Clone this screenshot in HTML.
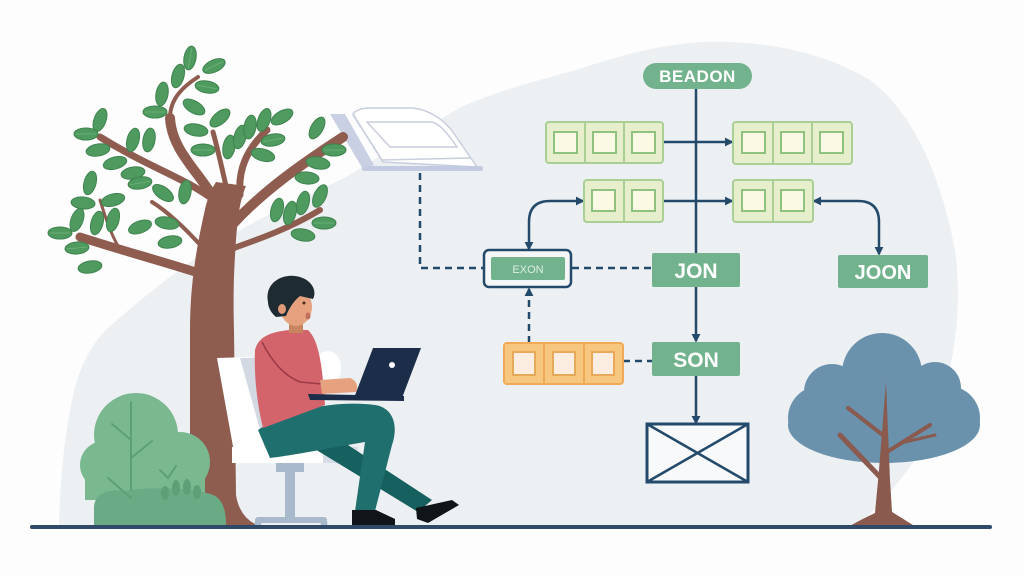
<!DOCTYPE html>
<html><head><meta charset="utf-8">
<style>
html,body{margin:0;padding:0;background:#fdfdfe;}
svg{display:block;}
text{font-family:"Liberation Sans",sans-serif;}
</style></head>
<body>
<svg width="1024" height="576" viewBox="0 0 1024 576" xmlns="http://www.w3.org/2000/svg">
<defs>
<marker id="ah" viewBox="0 0 10 10" refX="8" refY="5" markerWidth="9" markerHeight="9" markerUnits="userSpaceOnUse" orient="auto-start-reverse">
<path d="M0,0 L10,5 L0,10 Z" fill="#234a6b"/>
</marker>
</defs>
<rect width="1024" height="576" fill="#fdfdfe"/>
<!-- background blob -->
<path d="M59 527 C60 480 65 420 78 377 C90 345 100 335 117 320 C140 300 165 280 193 260 C250 220 300 200 346 177 C390 150 430 125 461 107 C500 90 540 80 576 70 C620 55 660 45 700 42 C760 40 820 50 870 80 C910 110 940 170 955 250 C965 320 950 420 900 480 C880 505 865 520 855 527 Z" fill="#edf0f3"/>

<!-- monitor/page shape -->
<path d="M353 114 C356 110 362 108 370 108 L413 108 C430 110 445 120 455 135 L477 167 L383 162 Z" fill="#ffffff" stroke="#c8cedd" stroke-width="1.5"/>
<path d="M367 122 L432 122 C440 124 448 134 457 147 L390 147 Z" fill="none" stroke="#c8cedd" stroke-width="1.5"/>
<path d="M353 115 L382 160 L470 158" fill="none" stroke="#c8cedd" stroke-width="1.5"/>
<path d="M330 114 L345 114 L374 165 L363 169 Z" fill="#c9d0e4"/>
<rect x="362" y="166" width="121" height="5" rx="2" fill="#c3cbe2"/>

<!-- connectors -->
<g stroke="#234a6b" stroke-width="2.5" fill="none">
<line x1="696" y1="89" x2="696" y2="253"/>
<line x1="663" y1="142" x2="732" y2="142" marker-end="url(#ah)"/>
<line x1="663" y1="201" x2="732" y2="201" marker-end="url(#ah)"/>
<line x1="696" y1="287" x2="696" y2="341" marker-end="url(#ah)"/>
<line x1="696" y1="376" x2="696" y2="423" marker-end="url(#ah)"/>
<path d="M583 201 L550 201 Q529 201 529 222 L529 249" marker-start="url(#ah)" marker-end="url(#ah)"/>
<path d="M814 201 L858 201 Q879 201 879 222 L879 254" marker-start="url(#ah)" marker-end="url(#ah)"/>
<g stroke-dasharray="7 5">
<path d="M420 173 L420 268 L484 268"/>
<line x1="572" y1="268" x2="652" y2="268"/>
<line x1="623" y1="361" x2="652" y2="361"/>
<line x1="529" y1="343" x2="529" y2="289" marker-end="url(#ah)"/>
</g>
</g>

<!-- BEADON -->
<rect x="643" y="63" width="109" height="26" rx="13" fill="#72b38e"/>
<text x="697.5" y="82" font-size="17" font-weight="bold" fill="#ffffff" text-anchor="middle" letter-spacing="0.5">BEADON</text>

<!-- green cell groups -->
<g stroke-width="2">
<rect x="546" y="122" width="117" height="41" rx="3" fill="#e6eecb" stroke="#a9cf94"/>
<line x1="585" y1="122" x2="585" y2="163" stroke="#a9cf94"/>
<line x1="624" y1="122" x2="624" y2="163" stroke="#a9cf94"/>
<rect x="554" y="132" width="23" height="21" fill="#fbf8e4" stroke="#8fc27e"/>
<rect x="593" y="132" width="23" height="21" fill="#fbf8e4" stroke="#8fc27e"/>
<rect x="632" y="132" width="23" height="21" fill="#fbf8e4" stroke="#8fc27e"/>

<rect x="733" y="122" width="119" height="42" rx="3" fill="#e6eecb" stroke="#a9cf94"/>
<line x1="773" y1="122" x2="773" y2="164" stroke="#a9cf94"/>
<line x1="812" y1="122" x2="812" y2="164" stroke="#a9cf94"/>
<rect x="742" y="132" width="23" height="21" fill="#fbf8e4" stroke="#8fc27e"/>
<rect x="781" y="132" width="23" height="21" fill="#fbf8e4" stroke="#8fc27e"/>
<rect x="820" y="132" width="23" height="21" fill="#fbf8e4" stroke="#8fc27e"/>

<rect x="584" y="180" width="79" height="42" rx="3" fill="#e6eecb" stroke="#a9cf94"/>
<line x1="624" y1="180" x2="624" y2="222" stroke="#a9cf94"/>
<rect x="592" y="190" width="23" height="21" fill="#fbf8e4" stroke="#8fc27e"/>
<rect x="632" y="190" width="23" height="21" fill="#fbf8e4" stroke="#8fc27e"/>

<rect x="733" y="180" width="80" height="42" rx="3" fill="#e6eecb" stroke="#a9cf94"/>
<line x1="773" y1="180" x2="773" y2="222" stroke="#a9cf94"/>
<rect x="742" y="190" width="23" height="21" fill="#fbf8e4" stroke="#8fc27e"/>
<rect x="781" y="190" width="23" height="21" fill="#fbf8e4" stroke="#8fc27e"/>

<!-- orange -->
<rect x="504" y="343" width="119" height="41" rx="3" fill="#f8c77f" stroke="#f0aa55"/>
<line x1="544" y1="343" x2="544" y2="384" stroke="#f0aa55"/>
<line x1="584" y1="343" x2="584" y2="384" stroke="#f0aa55"/>
<rect x="513" y="352" width="22" height="23" fill="#fbeee0" stroke="#eaa85a"/>
<rect x="553" y="352" width="22" height="23" fill="#fbeee0" stroke="#eaa85a"/>
<rect x="592" y="352" width="22" height="23" fill="#fbeee0" stroke="#eaa85a"/>
</g>

<!-- EXON -->
<rect x="484" y="250" width="87" height="37" rx="5" fill="#f4f6f8" stroke="#234a6b" stroke-width="2.5"/>
<rect x="491" y="257" width="74" height="23" rx="2" fill="#72b38e"/>
<text x="528" y="273" font-size="11" fill="#dcefe2" text-anchor="middle">EXON</text>

<!-- JON, JOON, SON -->
<rect x="652" y="253" width="88" height="34" rx="2" fill="#72b38e"/>
<text x="696" y="278" font-size="21" font-weight="bold" fill="#ffffff" text-anchor="middle">JON</text>
<rect x="838" y="255" width="90" height="33" rx="2" fill="#72b38e"/>
<text x="883" y="279" font-size="20" font-weight="bold" fill="#ffffff" text-anchor="middle">JOON</text>
<rect x="652" y="342" width="88" height="34" rx="2" fill="#72b38e"/>
<text x="696" y="367" font-size="21" font-weight="bold" fill="#ffffff" text-anchor="middle">SON</text>

<!-- X box -->
<rect x="647" y="424" width="101" height="58" fill="#f8f9fb" stroke="#234a6b" stroke-width="3"/>
<path d="M647 424 L748 482 M748 424 L647 482" stroke="#234a6b" stroke-width="2.5"/>

<!-- right tree -->
<g fill="#6a92ad">
<circle cx="882" cy="373" r="40"/>
<circle cx="832" cy="392" r="28"/>
<circle cx="935" cy="388" r="26"/>
<ellipse cx="884" cy="425" rx="96" ry="38"/>
<circle cx="820" cy="418" r="32"/>
<circle cx="948" cy="418" r="32"/>
</g>
<g fill="#8a5a4f">
<path d="M886 382 L890 480 L892 512 Q905 520 916 527 L848 527 Q862 519 875 513 L879 470 Z"/>
</g>
<g stroke="#8a5a4f" fill="none" stroke-linecap="round">
<path d="M881 478 L840 435" stroke-width="5"/>
<path d="M884 436 L848 408" stroke-width="4"/>
<path d="M887 452 L930 425" stroke-width="4"/>
<path d="M905 442 L935 435" stroke-width="3"/>
</g>

<!-- left tree trunk -->
<path d="M190 527 L190 330 C190 280 198 240 206 205 C209 195 212 188 216 182 L246 186 C240 200 238 215 236 240 C234 270 233 290 234 330 L236 495 Q240 520 262 527 Z" fill="#8e5d50"/>
<g stroke="#8e5d50" fill="none" stroke-linecap="round">
<path d="M218 205 C200 172 172 152 170 118" stroke-width="10"/>
<path d="M170 118 C170 98 184 86 198 77" stroke-width="4"/>
<path d="M214 200 C185 178 150 168 100 137" stroke-width="7"/>
<path d="M205 275 C165 262 120 250 80 237" stroke-width="9"/>
<path d="M118 246 C110 232 105 216 100 200" stroke-width="3"/>
<path d="M203 248 C185 228 168 212 152 202" stroke-width="4"/>
<path d="M228 195 C222 168 218 150 213 132" stroke-width="5"/>
<path d="M240 195 C238 170 246 150 267 130" stroke-width="7"/>
<path d="M232 225 C262 192 300 165 343 137" stroke-width="10"/>
<path d="M234 248 C262 238 290 228 320 210" stroke-width="6"/>
</g>
<!-- leaves -->
<g fill="#4f9a5f" stroke="#3f834f" stroke-width="1">
<ellipse cx="190" cy="58" rx="12" ry="6" transform="rotate(-80 190 58)"/>
<ellipse cx="214" cy="66" rx="12" ry="6" transform="rotate(-25 214 66)"/>
<ellipse cx="178" cy="76" rx="12" ry="6" transform="rotate(-75 178 76)"/>
<ellipse cx="207" cy="87" rx="12" ry="6" transform="rotate(10 207 87)"/>
<ellipse cx="162" cy="94" rx="12" ry="6" transform="rotate(-80 162 94)"/>
<ellipse cx="194" cy="107" rx="12" ry="6" transform="rotate(30 194 107)"/>
<ellipse cx="155" cy="112" rx="12" ry="6" transform="rotate(0 155 112)"/>
<ellipse cx="100" cy="120" rx="12" ry="6" transform="rotate(-70 100 120)"/>
<ellipse cx="86" cy="134" rx="12" ry="6" transform="rotate(0 86 134)"/>
<ellipse cx="98" cy="150" rx="12" ry="6" transform="rotate(-10 98 150)"/>
<ellipse cx="133" cy="140" rx="12" ry="6" transform="rotate(-75 133 140)"/>
<ellipse cx="149" cy="140" rx="12" ry="6" transform="rotate(-80 149 140)"/>
<ellipse cx="115" cy="163" rx="12" ry="6" transform="rotate(-15 115 163)"/>
<ellipse cx="133" cy="173" rx="12" ry="6" transform="rotate(-10 133 173)"/>
<ellipse cx="196" cy="130" rx="12" ry="6" transform="rotate(10 196 130)"/>
<ellipse cx="220" cy="118" rx="12" ry="6" transform="rotate(-40 220 118)"/>
<ellipse cx="203" cy="150" rx="12" ry="6" transform="rotate(0 203 150)"/>
<ellipse cx="229" cy="147" rx="12" ry="6" transform="rotate(-80 229 147)"/>
<ellipse cx="240" cy="137" rx="12" ry="6" transform="rotate(-75 240 137)"/>
<ellipse cx="250" cy="127" rx="12" ry="6" transform="rotate(-80 250 127)"/>
<ellipse cx="264" cy="120" rx="12" ry="6" transform="rotate(-70 264 120)"/>
<ellipse cx="282" cy="117" rx="12" ry="6" transform="rotate(-30 282 117)"/>
<ellipse cx="273" cy="140" rx="12" ry="6" transform="rotate(-10 273 140)"/>
<ellipse cx="263" cy="155" rx="12" ry="6" transform="rotate(15 263 155)"/>
<ellipse cx="317" cy="128" rx="12" ry="6" transform="rotate(-60 317 128)"/>
<ellipse cx="334" cy="150" rx="12" ry="6" transform="rotate(0 334 150)"/>
<ellipse cx="318" cy="163" rx="12" ry="6" transform="rotate(10 318 163)"/>
<ellipse cx="307" cy="178" rx="12" ry="6" transform="rotate(5 307 178)"/>
<ellipse cx="277" cy="210" rx="12" ry="6" transform="rotate(-75 277 210)"/>
<ellipse cx="290" cy="213" rx="12" ry="6" transform="rotate(-75 290 213)"/>
<ellipse cx="303" cy="203" rx="12" ry="6" transform="rotate(-75 303 203)"/>
<ellipse cx="320" cy="196" rx="12" ry="6" transform="rotate(-65 320 196)"/>
<ellipse cx="324" cy="223" rx="12" ry="6" transform="rotate(0 324 223)"/>
<ellipse cx="303" cy="235" rx="12" ry="6" transform="rotate(10 303 235)"/>
<ellipse cx="140" cy="183" rx="12" ry="6" transform="rotate(-10 140 183)"/>
<ellipse cx="163" cy="193" rx="12" ry="6" transform="rotate(35 163 193)"/>
<ellipse cx="185" cy="192" rx="12" ry="6" transform="rotate(-80 185 192)"/>
<ellipse cx="140" cy="227" rx="12" ry="6" transform="rotate(-20 140 227)"/>
<ellipse cx="167" cy="223" rx="12" ry="6" transform="rotate(10 167 223)"/>
<ellipse cx="170" cy="242" rx="12" ry="6" transform="rotate(-10 170 242)"/>
<ellipse cx="90" cy="183" rx="12" ry="6" transform="rotate(-75 90 183)"/>
<ellipse cx="83" cy="203" rx="12" ry="6" transform="rotate(5 83 203)"/>
<ellipse cx="113" cy="200" rx="12" ry="6" transform="rotate(-15 113 200)"/>
<ellipse cx="77" cy="220" rx="12" ry="6" transform="rotate(-70 77 220)"/>
<ellipse cx="97" cy="223" rx="12" ry="6" transform="rotate(-75 97 223)"/>
<ellipse cx="113" cy="220" rx="12" ry="6" transform="rotate(-75 113 220)"/>
<ellipse cx="60" cy="233" rx="12" ry="6" transform="rotate(0 60 233)"/>
<ellipse cx="77" cy="248" rx="12" ry="6" transform="rotate(-5 77 248)"/>
<ellipse cx="90" cy="267" rx="12" ry="6" transform="rotate(-10 90 267)"/>
</g>
<!-- leaf midribs -->
<g stroke="#6fb57c" stroke-width="0.8" fill="none">
<line x1="180" y1="58" x2="200" y2="58" transform="rotate(-80 190 58)"/>
<line x1="204" y1="66" x2="224" y2="66" transform="rotate(-25 214 66)"/>
<line x1="197" y1="87" x2="217" y2="87" transform="rotate(10 207 87)"/>
<line x1="145" y1="112" x2="165" y2="112"/>
<line x1="76" y1="134" x2="96" y2="134"/>
<line x1="193" y1="150" x2="213" y2="150"/>
<line x1="324" y1="150" x2="344" y2="150"/>
<line x1="314" y1="223" x2="334" y2="223"/>
<line x1="130" y1="183" x2="150" y2="183" transform="rotate(-10 140 183)"/>
<line x1="50" y1="233" x2="70" y2="233"/>
<line x1="67" y1="248" x2="87" y2="248" transform="rotate(-5 77 248)"/>
<line x1="263" y1="140" x2="283" y2="140" transform="rotate(-10 273 140)"/>
</g>

<!-- bush -->
<g fill="#7ab890">
<circle cx="136" cy="435" r="42"/>
<circle cx="104" cy="465" r="24"/>
<circle cx="180" cy="462" r="30"/>
<rect x="85" y="455" width="120" height="45"/>
</g>
<path d="M94 527 L94 508 C94 492 110 489 125 491 C150 486 200 488 215 496 C225 502 226 515 226 527 Z" fill="#6aab85"/>
<g stroke="#5e9f77" stroke-width="2" fill="none" stroke-linecap="round">
<path d="M131 402 L131 490"/>
<path d="M131 440 L112 424"/>
<path d="M131 458 L152 441"/>
<path d="M108 478 L131 498"/>
<path d="M160 470 L168 478 L176 466"/>
</g>
<g fill="#5e9f77">
<ellipse cx="165" cy="493" rx="4" ry="7"/>
<ellipse cx="176" cy="488" rx="4" ry="8"/>
<ellipse cx="187" cy="487" rx="4" ry="8"/>
<ellipse cx="197" cy="492" rx="4" ry="7"/>
</g>

<!-- chair -->
<path d="M217 358 L250 357 L272 450 L236 463 Z" fill="#ffffff"/>
<path d="M240 358 L256 358 L276 445 L265 448 Z" fill="#d3d9e3"/>
<rect x="232" y="447" width="126" height="16" fill="#ffffff"/>
<rect x="323" y="447" width="35" height="16" fill="#d6dce6"/>
<rect x="276" y="463" width="28" height="9" fill="#a9b9cc"/>
<rect x="285" y="463" width="10" height="55" fill="#a9b9cc"/>
<rect x="255" y="517" width="72" height="6" rx="3" fill="#a9b9cc"/>
<circle cx="258" cy="523" r="3.5" fill="#a9b9cc"/>
<circle cx="324" cy="523" r="3.5" fill="#a9b9cc"/>

<!-- person -->
<path d="M300 440 L325 430 L432 500 L418 512 Z" fill="#16605f"/>
<path d="M258 430 C290 408 340 400 375 405 C395 408 398 428 392 445 L375 511 L355 511 L365 442 C330 448 295 455 270 458 Z" fill="#1f6f6e"/>
<path d="M352 510 L376 510 L395 519 L395 526 L352 526 Z" fill="#111418"/>
<path d="M416 508 L452 500 L459 505 L428 523 L417 519 Z" fill="#111418"/>
<ellipse cx="328" cy="368" rx="13" ry="17" fill="#ffffff"/>
<path d="M255 350 C258 338 268 332 290 330 L308 330 C318 340 322 360 325 405 L263 428 C256 400 254 370 255 350 Z" fill="#d4646b"/>
<path d="M262 342 C272 362 285 376 300 382 L322 384" stroke="#9b3a45" stroke-width="1.5" fill="none"/>
<path d="M320 380 L350 378 C356 380 359 386 356 392 L322 394 Z" fill="#e6a27f"/>
<rect x="289" y="320" width="14" height="13" fill="#c98560"/>
<ellipse cx="296" cy="307" rx="16" ry="19" fill="#e6a27f"/>
<path d="M268 302 C264 282 284 272 300 277 C313 281 317 292 313 299 L300 296 C295 300 290 306 286 316 L276 317 C271 313 268 307 268 302 Z" fill="#1f2b33"/>
<ellipse cx="282" cy="309" rx="4" ry="5" fill="#e09a77"/>
<circle cx="304" cy="303" r="1.5" fill="#4a2a20"/>
<ellipse cx="308" cy="316" rx="2.5" ry="3.5" fill="#c2705a"/>
<path d="M373 348 L421 348 L402 398 L354 398 Z" fill="#1b2d48"/>
<circle cx="392" cy="365" r="3" fill="#ffffff"/>
<path d="M308 394 L404 396 L404 401 L310 400 Z" fill="#1b2d48"/>

<!-- ground -->
<rect x="30" y="525" width="962" height="4" rx="2" fill="#2e4a68"/>
</svg>
</body></html>
